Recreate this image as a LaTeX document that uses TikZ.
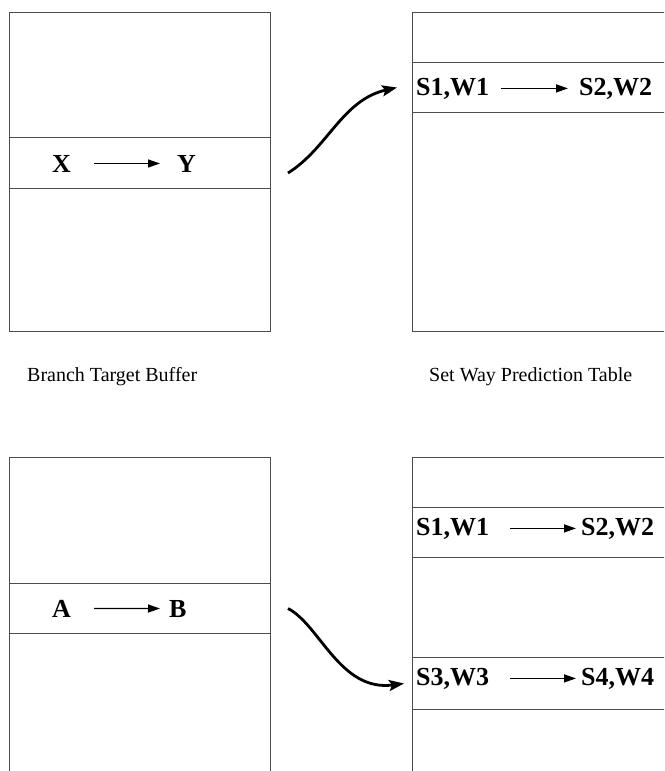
\documentclass[tikz,border=0pt]{standalone}
\usepackage{fontspec}
\setmainfont{Liberation Serif}
\usetikzlibrary{arrows.meta}
\begin{document}
\begin{tikzpicture}[x=1pt,y=-1pt,
  tbl/.style={draw=black!70, line width=1pt, rectangle, inner sep=0pt, anchor=north west},
  rowbox/.style={draw=black!70, line width=1pt, rectangle, inner sep=0pt, anchor=north west, minimum height=51pt},
  ent/.style={inner sep=0pt, anchor=base west, font=\fontsize{26}{30}\selectfont\bfseries},
  captxt/.style={inner sep=0pt, anchor=base west, font=\fontsize{20}{24}\selectfont},
  smallarrow/.style={line width=1.4pt, -{Triangle[length=12pt,width=8pt]}},
  bigarrow/.style={line width=2.8pt, -{Stealth[length=15pt,width=11pt,inset=3pt]}}]
\clip (0,0) rectangle (664,771);
\fill[white] (0,0) rectangle (664,771);
% top left: branch target buffer
\node[tbl, minimum width=261pt, minimum height=319pt] (btb1) at (9,11.5) {};
\node[rowbox, minimum width=261pt] (r1) at (9,137) {};
\node[ent] (X) at (52,172) {X};
\node[ent] (Y) at (177,172) {Y};
\draw[smallarrow, shorten <=23pt, shorten >=17pt] (X.east) -- (Y.west);
% top right: set way prediction table
\node[tbl, minimum width=280pt, minimum height=319pt] (swp1) at (412,11.5) {};
\node[rowbox, minimum width=280pt, minimum height=50pt] (s1) at (412,62) {};
\node[ent] (t1) at (416,95) {S1,W1};
\node[ent] (t2) at (579,95) {S2,W2};
\draw[smallarrow, shorten <=12pt, shorten >=11pt] (t1.east) -- (t2.west);
% captions
\node[captxt] (capA) at (27,381) {Branch Target Buffer};
\node[captxt] (capB) at (429,381) {Set Way Prediction Table};
% bottom left
\node[tbl, minimum width=261pt, minimum height=340pt] (btb2) at (9,456.5) {};
\node[rowbox, minimum width=261pt, minimum height=50pt] (r2) at (9,583) {};
\node[ent] (A) at (52,617) {A};
\node[ent] (B) at (169,617) {B};
\draw[smallarrow, shorten <=23pt, shorten >=9pt] (A.east) -- (B.west);
% bottom right
\node[tbl, minimum width=280pt, minimum height=340pt] (swp2) at (412,456.5) {};
\node[rowbox, minimum width=280pt, minimum height=50pt] (s2) at (412,507) {};
\node[ent] (u1) at (416,535) {S1,W1};
\node[ent] (u2) at (581,535) {S2,W2};
\draw[smallarrow, shorten <=21pt, shorten >=5pt] (u1.east) -- (u2.west);
\node[rowbox, minimum width=280pt, minimum height=52pt] (s3) at (412,657) {};
\node[ent] (v1) at (416,685) {S3,W3};
\node[ent] (v2) at (581,685) {S4,W4};
\draw[smallarrow, shorten <=21pt, shorten >=5pt] (v1.east) -- (v2.west);
% curved connectors
\coordinate (c1s) at ([shift={(17,10)}]r1.east);
\coordinate (c1e) at ([xshift=-15pt]s1.west);
\draw[bigarrow] (c1s) .. controls (328,148) and (342,100) .. (c1e);
\coordinate (c2s) at ([shift={(17,0)}]r2.east);
\coordinate (c2e) at ([xshift=-8pt]s3.west);
\draw[bigarrow] (c2s) .. controls (320,625) and (340,692) .. (c2e);
\end{tikzpicture}
\end{document}
